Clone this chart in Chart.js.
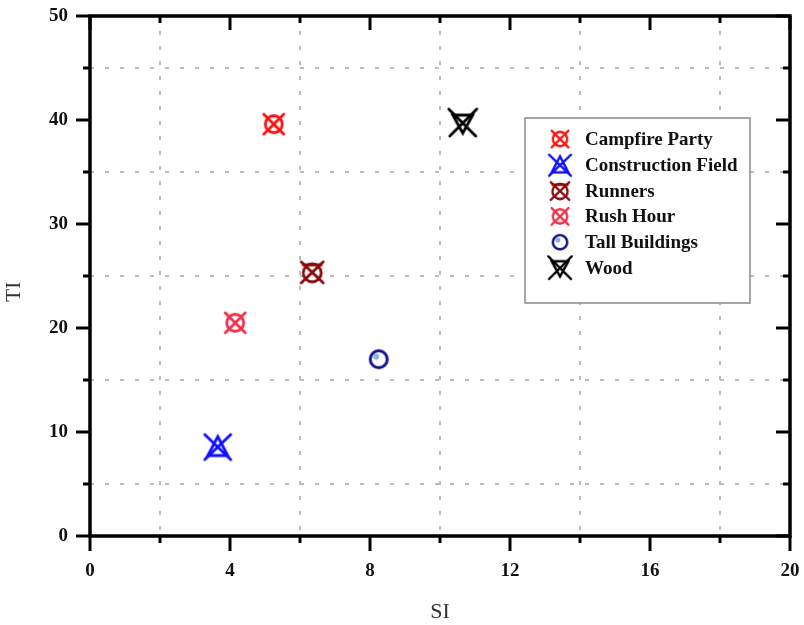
<!DOCTYPE html>
<html>
<head>
<meta charset="utf-8">
<script src="https://cdn.jsdelivr.net/npm/chart.js@4.4.1/dist/chart.umd.min.js"></script>
<style>
  html, body { margin: 0; padding: 0; background: #fff; }
  #wrap { width: 804px; height: 625px; }
</style>
</head>
<body>
<div id="wrap"><canvas id="chart" width="804" height="625"></canvas></div>
<script>
// series, one point each
const seriesNames = ["Campfire Party", "Construction Field", "Runners", "Rush Hour", "Tall Buildings", "Wood"];
const siValues = [5.25, 3.65, 6.35, 4.15, 8.25, 10.65];
const tiValues = [39.6, 8.6, 25.4, 20.5, 17.0, 39.7];
const seriesColors = ["#ff1010", "#1010ff", "#8b0a0a", "#f0304a", "#14148c", "#000000"];
const markerKinds = ["circleX", "triX", "runX", "circleX", "ring", "wood"];

const xTickLabels = [0, 4, 8, 12, 16, 20];
const yTickLabels = [0, 10, 20, 30, 40, 50];

const SERIF = "'Liberation Serif', 'Times New Roman', serif";

function makeMarker(kind, color) {
  const s = 32, c = document.createElement("canvas");
  c.width = s; c.height = s;
  const g = c.getContext("2d");
  g.strokeStyle = color; g.lineWidth = 2.8; g.lineCap = "round";
  const m = s / 2;
  const line = (a, b, d, e) => { g.beginPath(); g.moveTo(a, b); g.lineTo(d, e); g.stroke(); };
  if (kind === "circleX") {
    g.beginPath(); g.arc(m, m, 8.5, 0, Math.PI * 2); g.stroke();
    line(m - 10, m - 10, m + 10, m + 10); line(m + 10, m - 10, m - 10, m + 10);
  } else if (kind === "triX") {
    g.beginPath(); g.moveTo(m, m - 10); g.lineTo(m + 10, m + 9); g.lineTo(m - 10, m + 9); g.closePath(); g.stroke();
    line(m - 13, m - 12, m + 13, m + 13); line(m + 13, m - 12, m - 13, m + 13);
  } else if (kind === "runX") {
    g.beginPath(); g.arc(m, m + 1, 9, 0, Math.PI * 2); g.stroke();
    line(m - 9, m - 7, m + 9, m - 7);
    line(m - 11, m - 10, m + 11, m + 11); line(m + 11, m - 10, m - 11, m + 11);
  } else if (kind === "ring") {
    g.beginPath(); g.arc(m, m, 8.5, 0, Math.PI * 2); g.lineWidth = 3; g.stroke();
    g.fillStyle = "#8fb0d8";
    g.beginPath(); g.arc(m - 2.5, m - 2.5, 3, 0, Math.PI * 2); g.fill();
  } else if (kind === "wood") {
    g.beginPath(); g.moveTo(m - 10, m - 8); g.lineTo(m + 10, m - 8); g.lineTo(m, m + 10); g.closePath(); g.stroke();
    line(m - 14, m - 14, m + 13, m + 13); line(m + 14, m - 14, m - 13, m + 13);
  }
  return c;
}

const markers = markerKinds.map((k, i) => makeMarker(k, seriesColors[i]));

const datasets = seriesNames.map((name, i) => ({
  label: name,
  data: [{ x: siValues[i], y: tiValues[i] }],
  pointStyle: markers[i],
  pointRadius: 13,
  borderColor: seriesColors[i],
  backgroundColor: seriesColors[i]
}));

// frame, tick marks and legend
const framePlugin = {
  id: "frame",
  afterDraw(chart) {
    const { ctx, chartArea: a, scales: { x, y } } = chart;
    ctx.save();
    ctx.strokeStyle = "#000";
    ctx.lineWidth = 3.5;
    ctx.lineCap = "butt";
    ctx.strokeRect(a.left, a.top, a.right - a.left, a.bottom - a.top);
    ctx.lineWidth = 3;
    for (let v = 0; v <= 20; v += 2) {
      const px = x.getPixelForValue(v);
      const major = v % 4 === 0;
      const out = major ? 15 : 7, inn = major ? 14 : 7;
      ctx.beginPath(); ctx.moveTo(px, a.bottom); ctx.lineTo(px, a.bottom + out); ctx.stroke();
      ctx.beginPath(); ctx.moveTo(px, a.top); ctx.lineTo(px, a.top + inn); ctx.stroke();
    }
    for (let v = 0; v <= 50; v += 5) {
      const py = y.getPixelForValue(v);
      const major = v % 10 === 0;
      const out = major ? 14 : 7, inn = major ? 14 : 7;
      ctx.beginPath(); ctx.moveTo(a.left, py); ctx.lineTo(a.left - out, py); ctx.stroke();
      ctx.beginPath(); ctx.moveTo(a.right, py); ctx.lineTo(a.right - inn, py); ctx.stroke();
    }

    // legend box
    const lx = 525, ly = 118, lw = 225, lh = 185;
    ctx.fillStyle = "#fff";
    ctx.fillRect(lx, ly, lw, lh);
    ctx.strokeStyle = "#8a8a8a";
    ctx.lineWidth = 1.5;
    ctx.strokeRect(lx, ly, lw, lh);
    ctx.font = "bold 19px " + SERIF;
    ctx.fillStyle = "#111";
    ctx.textBaseline = "middle";
    chart.data.datasets.forEach((ds, i) => {
      const ry = 139 + i * 25.8;
      const mk = ds.pointStyle;
      const k = 0.84;
      ctx.drawImage(mk, 560 - mk.width * k / 2, ry - mk.height * k / 2, mk.width * k, mk.height * k);
      ctx.fillText(ds.label, 585, ry + 1);
    });
    ctx.restore();
  }
};

const gridDash = (ctx, mod, minorMod) => (ctx.tick && ctx.tick.value % mod === minorMod) ? "#bdbdbd" : "rgba(0,0,0,0)";

new Chart(document.getElementById("chart"), {
  type: "scatter",
  data: { datasets },
  plugins: [framePlugin],
  options: {
    responsive: false,
    animation: false,
    layout: { padding: { top: 16, right: 14, left: 0, bottom: 0 } },
    plugins: { legend: { display: false }, tooltip: { enabled: false } },
    scales: {
      x: {
        min: 0, max: 20,
        afterFit(s) { s.height = 89; s.paddingLeft = 0; s.paddingRight = 0; },
        border: { display: false, dash: [4, 11] },
        grid: { drawTicks: false, lineWidth: 2, color: (c) => gridDash(c, 4, 2) },
        ticks: {
          stepSize: 2, padding: 24, color: "#111",
          font: { family: SERIF, size: 19, weight: "bold" },
          callback: (v) => xTickLabels.includes(v) ? String(v) : ""
        },
        title: { display: true, text: "SI", color: "#333", font: { family: SERIF, size: 22 }, padding: { top: 4, bottom: 0 } }
      },
      y: {
        min: 0, max: 50,
        afterFit(s) { s.width = 90; s.paddingTop = 0; s.paddingBottom = 0; },
        border: { display: false, dash: [4, 11] },
        grid: { drawTicks: false, lineWidth: 2, color: (c) => gridDash(c, 10, 5) },
        ticks: {
          stepSize: 5, padding: 22, color: "#111",
          font: { family: SERIF, size: 19, weight: "bold" },
          callback: (v) => yTickLabels.includes(v) ? String(v) : ""
        },
        title: { display: true, text: "TI\u00a0\u00a0\u00a0\u00a0\u00a0\u00a0", color: "#333", font: { family: SERIF, size: 21 }, padding: { top: 2, bottom: 10 } }
      }
    }
  }
});
</script>
</body>
</html>
